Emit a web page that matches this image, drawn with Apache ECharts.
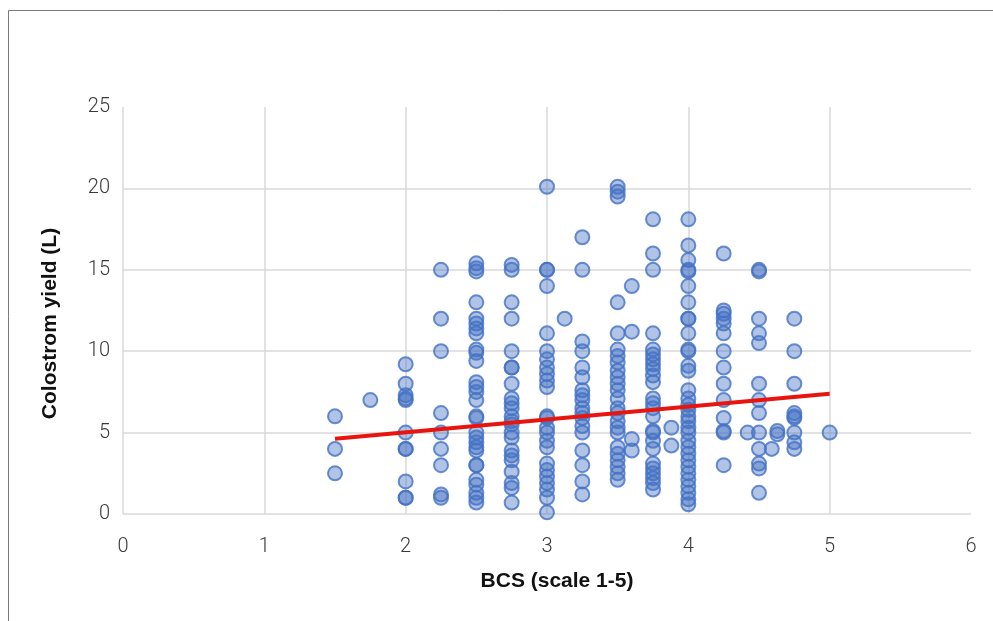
<!DOCTYPE html>
<html>
<head>
<meta charset="utf-8">
<script src="https://cdn.jsdelivr.net/npm/echarts@6/dist/echarts.min.js"></script>
<style>html,body{margin:0;padding:0;background:#fff}#c{width:993px;height:621px}</style>
</head>
<body>
<div id="c"></div>
<script>
const bcsLevels = [1.5, 1.75, 2.0, 2.25, 2.5, 2.75, 3.0, 3.125, 3.25, 3.5, 3.6, 3.75, 3.88, 4.0, 4.25, 4.42, 4.5, 4.59, 4.63, 4.75, 5.0];
const yieldsAtLevel = [
  [6.0, 4.0, 2.5],
  [7.0],
  [9.2, 8.0, 7.3, 7.0, 7.1, 5.0, 4.0, 4.0, 2.0, 1.0, 1.0],
  [15.0, 12.0, 10.0, 6.2, 5.0, 4.0, 3.0, 1.2, 1.0],
  [15.4, 15.1, 14.9, 13.0, 12.0, 11.7, 11.4, 11.1, 10.1, 9.9, 9.4, 8.1, 7.8, 7.5, 7.0, 6.0, 5.9, 5.0, 4.7, 4.4, 4.1, 3.9, 3.0, 3.0, 2.1, 1.8, 1.3, 1.0, 0.7],
  [15.3, 15.0, 13.0, 12.0, 10.0, 9.0, 9.0, 8.0, 7.1, 6.8, 6.5, 6.0, 5.7, 5.5, 5.0, 4.7, 3.9, 3.6, 3.3, 2.6, 1.9, 1.6, 0.7],
  [20.1, 15.0, 15.0, 14.0, 11.1, 10.0, 9.5, 9.0, 8.6, 8.2, 7.8, 6.0, 5.9, 5.3, 5.0, 4.5, 4.1, 3.1, 2.7, 2.3, 1.9, 1.5, 1.0, 0.1],
  [12.0],
  [17.0, 15.0, 10.6, 10.0, 9.0, 8.4, 7.6, 7.3, 7.0, 6.5, 6.2, 5.9, 5.4, 5.0, 3.9, 3.0, 2.0, 1.2],
  [20.1, 19.8, 19.5, 13.0, 11.1, 10.1, 9.7, 9.3, 8.8, 8.4, 8.0, 7.6, 7.1, 6.5, 6.2, 5.7, 5.3, 5.0, 4.1, 3.7, 3.3, 2.9, 2.5, 2.1],
  [14.0, 11.2, 4.6, 3.9],
  [18.1, 16.0, 15.0, 11.1, 10.1, 9.8, 9.5, 9.2, 8.9, 8.5, 8.1, 7.1, 6.8, 6.5, 6.0, 5.1, 5.0, 4.5, 4.0, 3.1, 2.8, 2.5, 2.2, 1.9, 1.5],
  [5.3, 4.2],
  [18.1, 16.5, 15.6, 15.0, 14.9, 14.0, 13.0, 12.0, 12.0, 11.1, 10.1, 10.0, 9.1, 8.8, 7.6, 7.1, 6.7, 6.4, 6.0, 5.7, 5.3, 5.0, 4.5, 4.1, 3.7, 3.3, 2.9, 2.5, 2.1, 1.7, 1.3, 0.9, 0.6],
  [16.0, 12.5, 12.3, 12.0, 11.7, 11.1, 10.0, 9.0, 8.0, 7.0, 5.9, 5.1, 5.0, 3.0],
  [5.0],
  [15.0, 14.9, 12.0, 11.1, 10.5, 8.0, 7.0, 6.2, 5.0, 4.0, 3.1, 2.8, 1.3],
  [4.0],
  [5.1, 4.9],
  [12.0, 10.0, 8.0, 6.2, 6.0, 5.9, 5.0, 4.4, 4.0],
  [5.0]
];
const trendX = [1.5, 5.0];
const trendY = [4.62, 7.38];
const xTicks = [0, 6, 1];
const yTicks = [0, 25, 5];

const points = [];
bcsLevels.forEach((b, i) => yieldsAtLevel[i].forEach(v => points.push([b, v])));

const chart = echarts.init(document.getElementById('c'), null, {renderer: 'canvas'});
const tickFont = {fontFamily: 'Roboto', fontWeight: 300, fontSize: 20, color: '#3a3a3a'};
const titleFont = {fontFamily: 'Liberation Sans', fontSize: 21, fontWeight: 'bold', color: '#111'};
chart.setOption({
  animation: false,
  backgroundColor: '#fff',
  graphic: [{
    type: 'rect', shape: {x: 8.5, y: 10.5, width: 1100, height: 800},
    style: {fill: 'none', stroke: '#7a7a7a', lineWidth: 1}, silent: true, z: -1
  }],
  grid: {left: 123, top: 107, right: 22, bottom: 107},
  xAxis: {
    type: 'value', min: xTicks[0], max: xTicks[1], interval: xTicks[2],
    name: 'BCS (scale 1-5)', nameLocation: 'middle', nameGap: 57,
    nameTextStyle: Object.assign({padding: [0, 0, 0, 20]}, titleFont),
    axisLine: {show: false}, axisTick: {show: false},
    axisLabel: Object.assign({margin: 23}, tickFont),
    splitLine: {show: true, showMaxLine: false, lineStyle: {color: '#d9d9d9', width: 1.5}}
  },
  yAxis: {
    type: 'value', min: yTicks[0], max: yTicks[1], interval: yTicks[2],
    name: 'Colostrom yield (L)', nameLocation: 'middle', nameGap: 62,
    nameTextStyle: Object.assign({padding: [0, 26, 0, 0]}, titleFont),
    axisLine: {show: false}, axisTick: {show: false},
    axisLabel: Object.assign({margin: 13}, tickFont),
    splitLine: {show: true, showMaxLine: false, lineStyle: {color: '#d9d9d9', width: 1.5}}
  },
  series: [{
    type: 'scatter', data: points, symbolSize: 14,
    itemStyle: {color: 'rgba(68,114,196,0.52)', borderColor: '#4472C4', borderWidth: 2}
  }, {
    type: 'line', data: trendX.map((x, i) => [x, trendY[i]]), symbol: 'none',
    lineStyle: {color: '#E8150F', width: 4}, z: 5
  }]
});
</script>
</body>
</html>
